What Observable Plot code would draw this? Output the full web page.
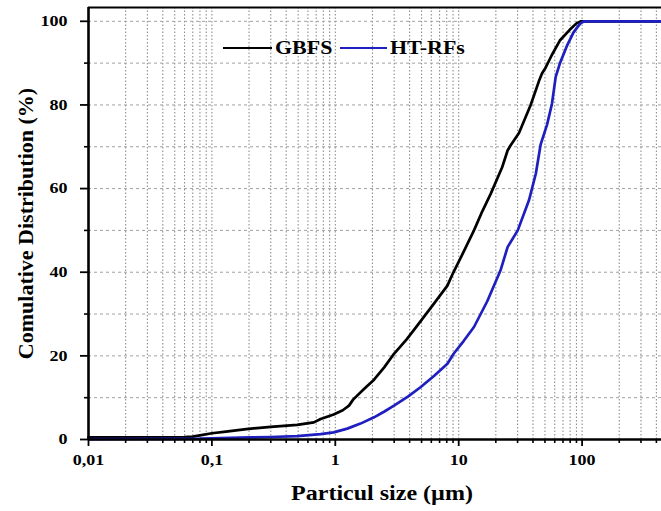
<!DOCTYPE html>
<html>
<head>
<meta charset="utf-8">
<script src="https://cdn.jsdelivr.net/npm/d3@7"></script>
<script src="https://cdn.jsdelivr.net/npm/@observablehq/plot@0.6"></script>
<style>
  body { margin: 0; background: #fff; }
  #wrap { position: relative; width: 661px; height: 511px; background: #fff; }
  .lg-line { position: absolute; height: 0; border-top-style: solid; border-top-width: 2.6px; }
  .lg-text { position: absolute; font: bold 18px "Liberation Serif", "Times New Roman", serif; line-height: 18px; color: #000; transform: scaleX(1.22); transform-origin: left center; white-space: nowrap; }
</style>
</head>
<body>
<div id="wrap"></div>
<script>
// ---- data ----
const seriesNames = ["GBFS", "HT-RFs"];
const seriesColors = ["#000000", "#1f1fc0"];

const gbfsSize = [0.01, 0.02, 0.04, 0.06, 0.07, 0.08, 0.1, 0.13, 0.19, 0.3, 0.49, 0.67, 0.76, 0.97, 1.15, 1.29, 1.4, 1.7, 2.06, 2.5, 2.99, 3.8, 4.63, 6.3, 8.1, 9.0, 11.1, 13.3, 15.5, 18.2, 22.5, 24.9, 26.3, 30.8, 38.3, 44.7, 47.3, 50.6, 57, 66, 79, 90, 98, 440];
const gbfsCum  = [0.5, 0.5, 0.5, 0.55, 0.7, 1.0, 1.5, 1.9, 2.5, 3.0, 3.5, 4.1, 4.9, 6.0, 7.0, 8.1, 9.6, 12.0, 14.3, 17.3, 20.5, 24.0, 27.3, 32.5, 36.8, 39.8, 45.2, 50.0, 54.5, 58.8, 65.1, 69.1, 70.3, 73.3, 80.0, 85.7, 87.5, 88.9, 92.0, 95.4, 97.9, 99.5, 100, 100];

const htSize = [0.01, 0.05, 0.08, 0.1, 0.2, 0.3, 0.49, 0.76, 0.97, 1.25, 1.6, 2.06, 2.5, 2.99, 3.9, 4.9, 6.3, 8.1, 9.1, 11, 13.3, 17, 21.8, 24.9, 30.1, 37.1, 42.2, 46.1, 52, 57, 61.1, 66, 75, 85, 91.7, 97, 104, 440];
const htCum  = [0.1, 0.15, 0.2, 0.3, 0.5, 0.6, 0.8, 1.3, 1.7, 2.6, 3.8, 5.3, 6.7, 8.1, 10.3, 12.5, 15.2, 18.1, 20.5, 23.6, 26.9, 33.0, 40.4, 46.0, 50.0, 57.2, 63.6, 70.5, 75.3, 80.3, 86.7, 89.9, 94.0, 97.3, 98.6, 99.5, 100, 100];

const xTicks = [0.01, 0.1, 1, 10, 100];
const xTickLabels = ["0,01", "0,1", "1", "10", "100"];
const yTicks = [0, 20, 40, 60, 80, 100];
const yMinorTicks = [10, 30, 50, 70, 90];
const yGrid = [10, 20, 30, 40, 50, 60, 70, 80, 90, 100];
const xTitle = "Particul size (µm)";
const yTitle = "Comulative Distribution (%)";

// ---- build ----
const xMax = 440, yMax = 103.3;
const minorX = [];
for (let e = -2; e <= 2; e++) for (let k = 2; k <= 9; k++) {
  const v = +(k * Math.pow(10, e)).toPrecision(3);
  if (v <= xMax) minorX.push(v);
}
const data = [
  ...gbfsSize.map((s, i) => ({size: s, cum: gbfsCum[i], series: seriesNames[0]})),
  ...htSize.map((s, i) => ({size: s, cum: htCum[i], series: seriesNames[1]}))
];

const chart = Plot.plot({
  width: 661, height: 511,
  marginLeft: 88, marginRight: 0, marginTop: 7, marginBottom: 72,
  style: {fontFamily: '"Liberation Serif", "Times New Roman", serif', fontWeight: "bold", background: "#fff", color: "#000", overflow: "visible"},
  x: {type: "log", domain: [0.01, xMax]},
  y: {domain: [0, yMax]},
  color: {domain: seriesNames, range: seriesColors},
  marks: [
    Plot.ruleX([...minorX, ...xTicks.slice(1)], {x: d => d, stroke: "#8e8e8e", strokeDasharray: "1.5,2", strokeWidth: 1.1}),
    Plot.ruleY(yGrid, {y: d => d, stroke: "#a0a0a0", strokeDasharray: "3,3", strokeWidth: 1}),
    Plot.line(data, {x: "size", y: "cum", z: "series", stroke: "series", strokeWidth: 2.7, strokeLinejoin: "round"}),
    Plot.ruleY([0], {strokeWidth: 2.6}),
    Plot.ruleX([0.01], {strokeWidth: 2.6}),
    Plot.ruleY([yMax], {strokeWidth: 2.2}),
    Plot.axisX(xTicks, {tickSize: 7, tickPadding: 8, strokeWidth: 1.8, fontSize: 15, label: null,
      tickFormat: d => xTickLabels[xTicks.indexOf(d)]}),
    Plot.axisX(minorX, {tickSize: 4, strokeWidth: 1.6, label: null, tickFormat: () => ""}),
    Plot.axisY(yTicks, {tickSize: 8, tickPadding: 13, strokeWidth: 1.8, fontSize: 15, label: null}),
    Plot.axisY(yMinorTicks, {tickSize: 4, strokeWidth: 1.6, label: null, tickFormat: () => ""}),
    Plot.text([xTitle], {text: d => d, frameAnchor: "bottom", dx: 7, dy: 54, lineAnchor: "middle", textAnchor: "middle", fontSize: 20, fontWeight: "bold"}),
    Plot.text([yTitle], {text: d => d, frameAnchor: "left", dx: -63, rotate: -90, textAnchor: "middle", lineAnchor: "middle", fontSize: 22, fontWeight: "bold"})
  ]
});

const wrap = document.getElementById("wrap");
wrap.appendChild(chart);

// widen horizontal text to match the reference's wide glyphs
const stretch = 1.2;
chart.querySelectorAll("text").forEach(t => {
  const s = t.textContent;
  const isTick = t.closest('g[aria-label="x-axis tick label"], g[aria-label="y-axis tick label"]');
  if ((isTick && s !== "") || s === xTitle) {
    const w = t.getComputedTextLength();
    if (w > 0) {
      t.setAttribute("textLength", (w * stretch).toFixed(1));
      t.setAttribute("lengthAdjust", "spacingAndGlyphs");
    }
  }
});

// legend (inside the plot, top)
const legendSpec = [
  {name: seriesNames[0], color: seriesColors[0], lineLeft: 223, lineWidth: 49, textLeft: 275},
  {name: seriesNames[1], color: seriesColors[1], lineLeft: 340, lineWidth: 47, textLeft: 390}
];
legendSpec.forEach(l => {
  const ln = document.createElement("div");
  ln.className = "lg-line";
  ln.style.left = l.lineLeft + "px";
  ln.style.top = "47px";
  ln.style.width = l.lineWidth + "px";
  ln.style.borderTopColor = l.color;
  wrap.appendChild(ln);
  const tx = document.createElement("div");
  tx.className = "lg-text";
  tx.style.left = l.textLeft + "px";
  tx.style.top = "39px";
  tx.textContent = l.name;
  wrap.appendChild(tx);
});
</script>
</body>
</html>
